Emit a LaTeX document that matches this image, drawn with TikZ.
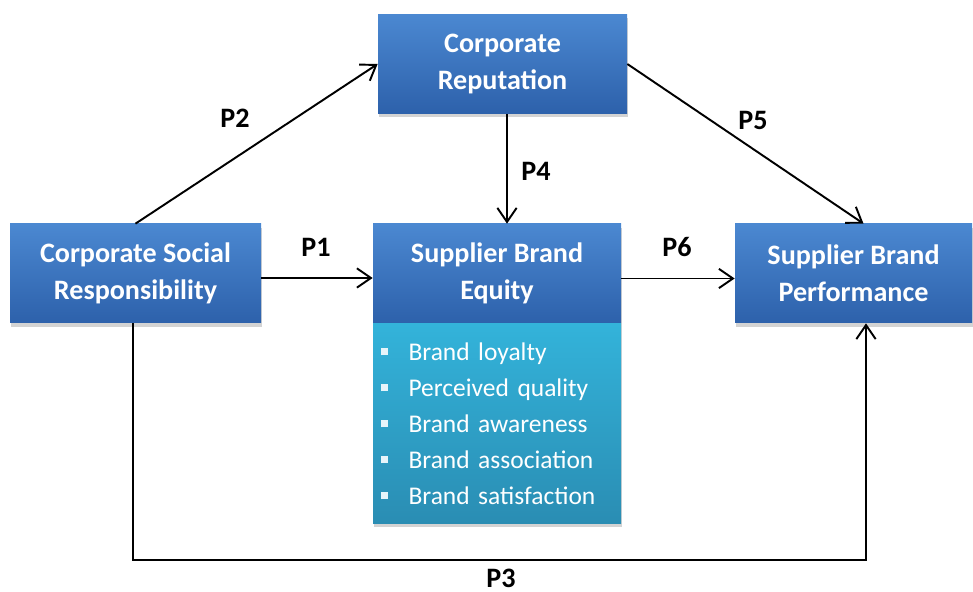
\documentclass[tikz,border=0pt]{standalone}
\usepackage{fontspec}
\setmainfont{Carlito}
\usepackage{tikz}
\usetikzlibrary{positioning, arrows, arrows.meta, shadows}

\definecolor{boxtop}{HTML}{4B88D1}
\definecolor{boxbot}{HTML}{2D61AB}
\definecolor{listtop}{HTML}{33B3DA}
\definecolor{listbot}{HTML}{2A8DB3}
\definecolor{bulletc}{HTML}{E6F4FA}

% small square bullet for the dimension list
\newcommand{\sqbullet}{\textcolor{bulletc}{\rule[0.2em]{0.28em}{0.28em}}\hspace{0.8em}}

\tikzset{
  construct/.style={draw=none, top color=boxtop, bottom color=boxbot, text=white,
    font=\fontsize{16}{21}\selectfont\bfseries, align=center, minimum height=1.98cm,
    drop shadow={shadow xshift=0.5pt, shadow yshift=-2pt, opacity=0.35}},
  dimlist/.style={draw=none, top color=listtop, bottom color=listbot, text=white,
    font=\fontsize{14.5}{20.5}\selectfont, align=left, text width=4.64cm,
    inner xsep=0.16cm, minimum height=4cm,
    drop shadow={shadow xshift=0.5pt, shadow yshift=-2pt, opacity=0.35}},
  link/.style={-{Straight Barb[length=8pt,width=11pt]}, line width=1.1pt},
  plabel/.style={font=\fontsize{16}{19}\selectfont\bfseries, inner sep=1pt}
}

\begin{document}
\begin{tikzpicture}
\useasboundingbox (0,0) rectangle (19.46,11.84);

% constructs
\node[construct, minimum width=5.02cm] (csr) at (2.71,6.37) {Corporate Social\\Responsibility};
\node[construct, minimum width=4.98cm] (rep) at (10.05,10.56) {Corporate\\Reputation};
\node[construct, minimum width=4.96cm] (sbe) at (9.94,6.37) {Supplier Brand\\Equity};
\node[dimlist, below=0pt of sbe] (dims) {\sqbullet Brand loyalty\\
  \sqbullet Perceived quality\\
  \sqbullet Brand awareness\\
  \sqbullet Brand association\\
  \sqbullet Brand satisfaction};
\node[construct, minimum width=4.74cm] (perf) at (17.07,6.37) {Supplier Brand\\Performance};

% propositions
\coordinate (base) at (0,0.64);
\draw[link] (csr.north) -- (rep.west);
\draw[link] ([yshift=-0.09cm]csr.east) -- ([yshift=-0.09cm]sbe.west);
\draw[link] ([xshift=0.09cm]rep.south) -- ([xshift=0.09cm]rep.south |- sbe.north);
\draw[link] (rep.east) -- ([xshift=0.2cm]perf.north);
\draw[link] ([yshift=-0.1cm]sbe.east) -- ([yshift=-0.1cm]perf.west);
\draw[link] ([xshift=-0.05cm]csr.south) -- ([xshift=-0.05cm]csr.south |- base)
  -| ([xshift=0.25cm]perf.south);

\node[plabel] (l1) at (6.32,6.90) {P1};
\node[plabel] (l2) at (4.70,9.48) {P2};
\node[plabel] (l3) at (10.02,0.28) {P3};
\node[plabel] (l4) at (10.72,8.42) {P4};
\node[plabel] (l5) at (15.06,9.44) {P5};
\node[plabel] (l6) at (13.54,6.90) {P6};
\end{tikzpicture}
\end{document}
